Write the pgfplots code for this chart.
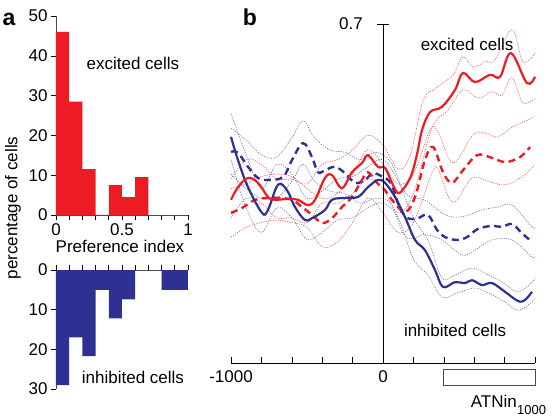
\documentclass[border=0pt]{standalone}
\usepackage{fontspec}
\setmainfont{Liberation Sans}
\usepackage{pgfplots}
\pgfplotsset{compat=1.18}
\definecolor{myred}{RGB}{237,28,36}
\definecolor{myblue}{RGB}{46,49,146}
\newcommand{\fs}{\fontsize{17}{20}\selectfont}
\begin{document}
\begin{tikzpicture}
\useasboundingbox (0,0) rectangle (555pt,416pt);
\pgfplotsset{every axis/.append style={scale only axis, anchor=south west, font=\fs,
  /pgf/number format/assume math mode=true, major tick length=5pt, minor tick length=5pt,
  every tick/.style={line width=0.6pt}},
  band/.style={dash pattern=on 1.2pt off 1.2pt, line width=0.6pt, smooth, tension=0.6}}
% ---------------- panel a, top
\begin{axis}[at={(56pt,201pt)}, width=132pt, height=199pt,
  xmin=0, xmax=1, ymin=0, ymax=50,
  axis x line*=bottom, axis y line*=left, tick align=outside,
  xtick={0,0.5,1}, xticklabels={0,0.5,1},
  minor xtick={0.1,0.2,0.3,0.4,0.6,0.7,0.8,0.9},
  ytick={0,10,20,30,40,50},
  axis line style={black!70, line width=0.6pt}, clip=false]
\addplot[const plot, fill=myred, draw=none] coordinates {
  (0,46) (0.1,28.5) (0.2,11.5) (0.3,0) (0.4,7.5) (0.5,4.5) (0.6,9.5) (0.7,9.5)} \closedcycle;
\node at (axis cs:0.583,38.2) {excited cells};
\end{axis}
% ---------------- panel a, bottom
\begin{axis}[at={(56pt,27pt)}, width=132pt, height=119pt,
  xmin=0, xmax=1, ymin=0, ymax=30, y dir=reverse,
  axis x line*=top, axis y line*=left, tick align=outside,
  xtick={0,0.5,1}, xticklabels={}, 
  minor xtick={0.1,0.2,0.3,0.4,0.6,0.7,0.8,0.9},
  ytick={0,10,20,30},
  axis line style={black!70, line width=0.6pt}, clip=false]
\addplot[const plot, fill=myblue, draw=none] coordinates {
  (0,29) (0.1,17) (0.2,21.7) (0.3,5) (0.4,12.2) (0.5,7.4) (0.6,0) (0.7,0) (0.8,5) (0.9,5) (1.0,5)} \closedcycle;
\node at (axis cs:0.583,27.0) {inhibited cells};
\end{axis}
% ---------------- panel b
\begin{axis}[at={(231pt,53pt)}, width=304pt, height=339pt,
  xmin=-1000, xmax=1000, ymin=0, ymax=0.7,
  axis x line*=bottom, axis y line=none, tick align=inside,
  major tick length=6pt,
  xtick={-1000,-800,-600,-400,-200,0,200,400,600,800,1000},
  xticklabels={-1000,,,,,0,,,,,},
  xticklabel style={yshift=-4pt},
  axis line style={black, line width=0.8pt}, clip=false]
% bands
\addplot[myred!75, band] coordinates {
(-1000,0.38)(-900,0.42)(-800,0.41)(-700,0.38)(-600,0.38)(-500,0.37)(-400,0.41)(-300,0.42)(-200,0.44)(-100,0.47)(0,0.45)(100,0.40)(180,0.43)(263,0.541)(342,0.566)(461,0.595)(526,0.632)(592,0.611)(671,0.622)(737,0.626)(849,0.688)(921,0.622)(1000,0.640)};
\addplot[myred!75, band] coordinates {
(-1000,0.30)(-900,0.34)(-800,0.33)(-700,0.30)(-600,0.30)(-500,0.29)(-400,0.33)(-300,0.33)(-200,0.35)(-100,0.38)(0,0.36)(100,0.31)(200,0.35)(322,0.485)(428,0.522)(526,0.564)(625,0.547)(717,0.560)(783,0.553)(849,0.589)(921,0.537)(1000,0.547)};
\addplot[myred!75, band] coordinates {
(-1000,0.36)(-900,0.37)(-800,0.385)(-700,0.39)(-600,0.385)(-500,0.36)(-400,0.34)(-300,0.35)(-200,0.39)(-100,0.44)(0,0.41)(100,0.37)(200,0.39)(309,0.481)(362,0.477)(461,0.413)(592,0.471)(671,0.475)(756,0.467)(849,0.487)(954,0.502)(1000,0.51)};
\addplot[myred!75, band] coordinates {
(-1000,0.26)(-900,0.28)(-800,0.29)(-700,0.295)(-600,0.29)(-500,0.28)(-400,0.24)(-300,0.25)(-200,0.29)(-100,0.34)(0,0.31)(100,0.27)(200,0.29)(322,0.392)(362,0.399)(461,0.332)(586,0.382)(704,0.374)(803,0.368)(914,0.384)(1000,0.41)};
\addplot[myblue!70, band] coordinates {
(-1000,0.515)(-900,0.43)(-800,0.36)(-700,0.41)(-600,0.39)(-500,0.34)(-400,0.355)(-300,0.38)(-200,0.385)(-100,0.405)(0,0.42)(100,0.375)(200,0.30)(300,0.25)(388,0.176)(474,0.182)(586,0.196)(691,0.182)(783,0.167)(888,0.147)(980,0.167)(1000,0.175)};
\addplot[myblue!70, band] coordinates {
(-1000,0.42)(-900,0.32)(-800,0.27)(-700,0.32)(-600,0.30)(-500,0.255)(-400,0.27)(-300,0.295)(-200,0.30)(-100,0.32)(0,0.33)(100,0.30)(200,0.215)(300,0.18)(388,0.136)(493,0.145)(605,0.155)(691,0.145)(803,0.126)(888,0.109)(980,0.126)(1000,0.135)};
\addplot[myblue!70, band] coordinates {
(-1000,0.485)(-900,0.46)(-800,0.43)(-700,0.425)(-600,0.465)(-526,0.50)(-450,0.465)(-350,0.44)(-250,0.435)(-150,0.42)(-50,0.435)(50,0.415)(150,0.35)(276,0.336)(408,0.306)(520,0.302)(651,0.316)(756,0.322)(849,0.326)(980,0.281)(1000,0.28)};
\addplot[myblue!70, band] coordinates {
(-1000,0.39)(-900,0.36)(-800,0.34)(-700,0.34)(-600,0.375)(-526,0.41)(-450,0.375)(-350,0.355)(-250,0.35)(-150,0.33)(-50,0.34)(50,0.33)(150,0.26)(276,0.265)(388,0.254)(520,0.223)(605,0.233)(717,0.254)(849,0.254)(980,0.219)(1000,0.22)};
% blue dashed
\addplot[myblue, line width=2.4pt, dash pattern=on 7pt off 4.5pt, smooth, tension=0.6] coordinates {
(-1000,0.436)(-954,0.434)(-888,0.405)(-822,0.382)(-757,0.378)(-658,0.384)(-599,0.419)(-526,0.454)(-467,0.425)(-428,0.394)(-382,0.398)(-316,0.405)(-250,0.392)(-184,0.372)(-118,0.378)(-66,0.392)(0,0.384)(46,0.374)(79,0.35)(110,0.32)(164,0.299)(230,0.299)(296,0.306)(355,0.275)(408,0.260)(487,0.254)(553,0.260)(625,0.277)(717,0.283)(783,0.281)(849,0.287)(914,0.268)(980,0.250)};
% red dashed
\addplot[myred, line width=2.4pt, dash pattern=on 7pt off 4.5pt, smooth, tension=0.6] coordinates {
(-1000,0.310)(-928,0.320)(-842,0.337)(-757,0.341)(-691,0.341)(-599,0.337)(-533,0.322)(-467,0.306)(-401,0.289)(-336,0.299)(-270,0.322)(-204,0.343)(-138,0.378)(-99,0.394)(-39,0.372)(13,0.357)(59,0.337)(145,0.312)(211,0.343)(276,0.419)(330,0.446)(395,0.394)(454,0.372)(526,0.398)(618,0.429)(704,0.425)(803,0.415)(901,0.425)(967,0.446)};
% blue solid
\addplot[myblue, line width=2.2pt, smooth, tension=0.6] coordinates {
(-1000,0.467)(-954,0.419)(-888,0.363)(-796,0.310)(-757,0.316)(-691,0.368)(-632,0.357)(-579,0.322)(-513,0.295)(-467,0.299)(-382,0.316)(-336,0.337)(-250,0.341)(-164,0.343)(-99,0.363)(-33,0.378)(13,0.372)(79,0.343)(145,0.301)(211,0.254)(276,0.233)(342,0.192)(395,0.157)(474,0.167)(540,0.165)(586,0.171)(651,0.161)(717,0.165)(803,0.147)(888,0.128)(934,0.130)(980,0.147)};
% red solid
\addplot[myred, line width=2.2pt, smooth, tension=0.6] coordinates {
(-1000,0.337)(-954,0.363)(-888,0.382)(-822,0.372)(-757,0.343)(-711,0.337)(-625,0.339)(-559,0.337)(-494,0.326)(-447,0.337)(-382,0.382)(-336,0.388)(-270,0.361)(-204,0.394)(-138,0.413)(-99,0.429)(-33,0.405)(13,0.403)(59,0.372)(99,0.351)(145,0.364)(191,0.392)(230,0.440)(257,0.481)(309,0.518)(388,0.529)(474,0.564)(526,0.599)(605,0.580)(704,0.595)(770,0.591)(842,0.640)(947,0.578)(1000,0.591)};
% y axis at 0
\draw[black, line width=0.8pt] (axis cs:0,0) -- (axis cs:0,0.7);
\draw[black, line width=0.8pt] (axis cs:-40,0.7) -- (axis cs:40,0.7);
\node[anchor=east, inner sep=0pt] at (axis cs:-132,0.7) {0.7};
\node at (axis cs:553,0.657) {excited cells};
\node at (axis cs:474,0.068) {inhibited cells};
\draw[black!70, line width=0.8pt] (axis cs:400,-0.0124) rectangle (axis cs:1000,-0.0454);
\end{axis}
\node[anchor=base east, inner sep=0pt, font=\fs] at (517pt,9pt) {ATNin};
\node[anchor=base west, inner sep=0pt, font=\fontsize{13}{15}\selectfont] at (517pt,2pt) {1000};
\node[font=\fontsize{23}{26}\selectfont\bfseries] at (9pt,397pt) {a};
\node[font=\fontsize{23}{26}\selectfont\bfseries] at (250pt,399pt) {b};
\node[font=\fs] at (120pt,170pt) {Preference index};
\node[font=\fs, rotate=90] at (13pt,208pt) {percentage of cells};
\end{tikzpicture}
\end{document}
